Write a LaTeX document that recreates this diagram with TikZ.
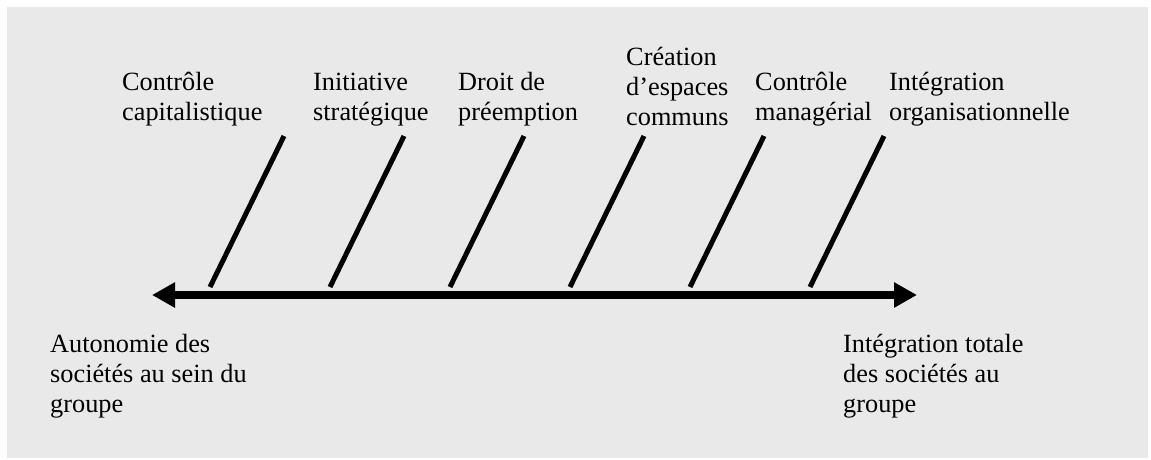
\documentclass[tikz,border=0pt]{standalone}
\usepackage{fontspec}
\setmainfont{Liberation Serif}
\usetikzlibrary{arrows.meta}
\definecolor{bg}{RGB}{233,233,233}
\tikzset{
  lbl/.style={anchor=base west, inner sep=0pt, align=left, font=\fontsize{26.3}{30}\selectfont},
  tick/.style={line width=5pt, line cap=butt},
  axis/.style={line width=7.5pt, {Triangle[length=23pt,width=24pt]}-{Triangle[length=23pt,width=24pt]}}
}
\begin{document}
\begin{tikzpicture}[x=1pt,y=-1pt]
\useasboundingbox (0,0) rectangle (1151,459);
\fill[bg] (7,7) rectangle (1148,458);
% labels (anchor = baseline of last line)
\node[lbl] (t1) at (122,120) {Contrôle\\capitalistique};
\node[lbl] (t2) at (313,120) {Initiative\\stratégique};
\node[lbl] (t3) at (458,120) {Droit de\\préemption};
\node[lbl] (t4) at (626,125) {Création\\d’espaces\\communs};
\node[lbl] (t5) at (755,120) {Contrôle\\managérial};
\node[lbl] (t6) at (889,120) {Intégration\\organisationnelle};
\node[lbl] (b1) at (50,412) {Autonomie des\\sociétés au sein du\\groupe};
\node[lbl] (b2) at (843,412) {Intégration totale\\des sociétés au\\groupe};
% axis
\coordinate (L) at (152,295);
\coordinate (R) at (917,295);
\draw[axis] (L) -- (R);
% ticks
\foreach \i/\x in {1/210,2/330,3/450,4/570,5/690,6/810}{
  \coordinate (a\i) at (\x,287);
  \coordinate (z\i) at (\x+74,136);
  \draw[tick] (a\i) -- (z\i);
}
\end{tikzpicture}
\end{document}
